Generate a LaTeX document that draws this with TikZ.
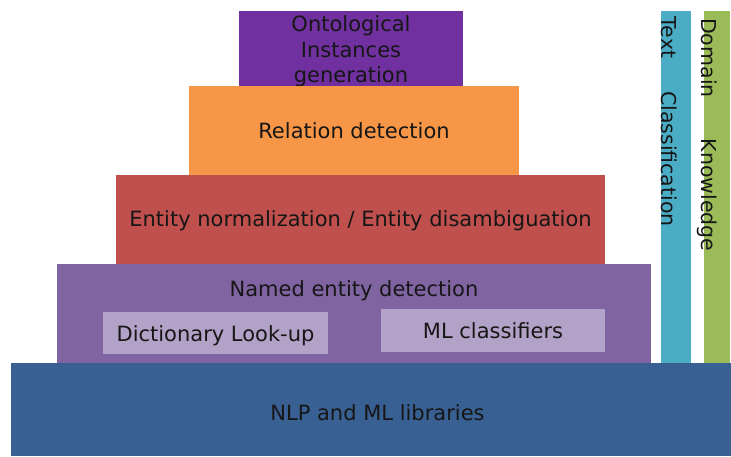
\documentclass[tikz,border=0pt]{standalone}
\usepackage{fontspec}
\setmainfont{DejaVu Sans}
\definecolor{ontop}{RGB}{112,48,160}
\definecolor{orng}{RGB}{247,150,70}
\definecolor{redb}{RGB}{192,80,77}
\definecolor{viol}{RGB}{128,100,162}
\definecolor{lviol}{RGB}{179,162,199}
\definecolor{blueb}{RGB}{56,96,146}
\definecolor{cyanb}{RGB}{75,172,198}
\definecolor{greenb}{RGB}{155,187,89}
\definecolor{txt}{RGB}{22,22,22}
\begin{document}
\begin{tikzpicture}[x=1pt,y=-1pt,
  box/.style={draw=none, inner sep=0, outer sep=0, anchor=north west},
  lbl/.style={font=\fontsize{21}{25.5}\selectfont, text=txt, align=center, inner sep=0},
  vlbl/.style={font=\fontsize{20.5}{25}\selectfont, text=txt, inner sep=0, rotate=-90, anchor=base west}]
\fill[white] (0,0) rectangle (731,456);
\useasboundingbox (0,0) rectangle (731,456);
% top layer and its text (partly covered by the next layer)
\node[box, fill=ontop, minimum width=224pt, minimum height=75pt] (onto) at (239,11) {};
\node[lbl] (ontot) at (351,51.5) {Ontological\\Instances\\generation};
% other layers
\node[box, fill=blueb, minimum width=720pt, minimum height=93pt] (nlp) at (11,363) {};
\node[box, fill=viol, minimum width=594pt, minimum height=99pt] (ner) at (57,264) {};
\node[box, fill=redb, minimum width=489pt, minimum height=89pt] (ent) at (116,175) {};
\node[box, fill=orng, minimum width=330pt, minimum height=89pt] (rel) at (189,86) {};
\node[box, fill=lviol, minimum width=225pt, minimum height=42pt] (dict) at (103,312) {};
\node[box, fill=lviol, minimum width=224pt, minimum height=43pt] (mlc) at (381,309) {};
\node[box, fill=cyanb, minimum width=30pt, minimum height=352pt] (tcbar) at (661,11) {};
\node[box, fill=greenb, minimum width=26pt, minimum height=352pt] (dkbar) at (704,11) {};
% labels
\node[lbl] (relt) at ([yshift=-0.5pt]rel.center) {Relation detection};
\node[lbl] (entt) at ([yshift=-1.5pt]ent.center) {Entity normalization / Entity disambiguation};
\node[lbl] (nert) at (354,291) {Named entity detection};
\node[lbl] (dictt) at ([yshift=-2.5pt]dict.center) {Dictionary Look-up};
\node[lbl] (mlct) at ([yshift=-0.5pt]mlc.center) {ML classifiers};
\node[lbl] (nlpt) at (377.5,413) {NLP and ML libraries};
\node[vlbl] (tct) at (661,16.5) {Text\hspace{33pt}Classification};
\node[vlbl] (dkt) at (701,18) {Domain\hspace{41pt}Knowledge};
\end{tikzpicture}
\end{document}
